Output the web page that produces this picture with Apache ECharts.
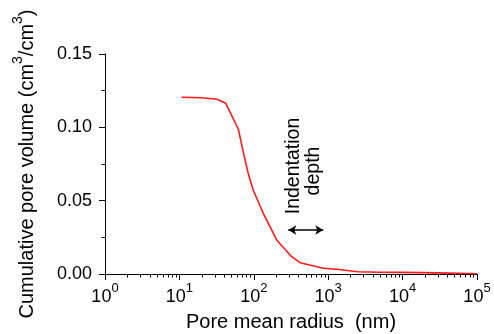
<!DOCTYPE html>
<html>
<head>
<meta charset="utf-8">
<script src="https://cdn.jsdelivr.net/npm/echarts@6/dist/echarts.min.js"></script>
<style>html,body{margin:0;padding:0;background:#fff}#c{width:494px;height:334px}</style>
</head>
<body>
<div id="c"></div>
<script>
// Data
const radius = [10.7, 20, 32, 42, 62, 72, 84, 98, 134, 203, 323, 418, 860, 1300, 2500, 5000, 10000, 30000, 100000];
const volume = [0.1205, 0.1202, 0.1191, 0.1164, 0.0987, 0.0834, 0.0687, 0.0573, 0.0414, 0.0232, 0.0118, 0.0077, 0.0039, 0.0032, 0.0015, 0.0012, 0.0011, 0.0008, 0.0002];
const yTicks = [0, 0.05, 0.10, 0.15];
const xDecades = [0, 1, 2, 3, 4, 5];
const arrowX = [291, 859];
const arrowY = 0.030;
const noteLines = ['Indentation', 'depth'];

const FONT = '"Liberation Sans", Arial, Helvetica, sans-serif';
const minorX = [];
for (let n = 0; n < 5; n++) for (let k = 2; k <= 9; k++) minorX.push(n + Math.log10(k));

const chart = echarts.init(document.getElementById('c'), null, {renderer: 'canvas'});
chart.setOption({
  animation: false,
  backgroundColor: '#fff',
  grid: {left: 105, right: 17, top: 54, bottom: 60, containLabel: false, outerBoundsMode: 'none'},
  xAxis: [{
    type: 'log', logBase: 10, min: Math.pow(10, xDecades[0]), max: Math.pow(10, xDecades[xDecades.length - 1]),
    name: 'Pore mean radius  (nm)', nameLocation: 'middle', nameGap: 38,
    nameTextStyle: {fontFamily: FONT, fontSize: 20, color: '#000'},
    axisLine: {show: true, onZero: false, lineStyle: {color: '#000', width: 1}},
    axisTick: {show: true, inside: false, length: 6, lineStyle: {color: '#000'}},
    splitLine: {show: false},
    axisLabel: {
      margin: 8,
      formatter: function (v) { return '{b|10}{s|' + Math.round(Math.log10(v)) + '}'; },
      rich: {
        b: {fontFamily: FONT, fontSize: 18, color: '#000', lineHeight: 30},
        s: {fontFamily: FONT, fontSize: 13, color: '#000', verticalAlign: 'top', lineHeight: 14}
      }
    }
  }, {
    type: 'value', min: 0, max: 5, position: 'bottom', gridIndex: 0,
    axisLine: {show: false},
    axisLabel: {show: false},
    splitLine: {show: false},
    axisTick: {show: true, inside: false, length: 3.5, customValues: minorX, lineStyle: {color: '#000'}}
  }],
  yAxis: {
    type: 'value', min: yTicks[0], max: yTicks[yTicks.length - 1], interval: 0.05,
    name: '{a|Cumulative pore volume (cm}{s|3}{a|/cm}{s|3}{a|)}',
    nameLocation: 'middle', nameGap: 62, nameRotate: 90,
    nameTextStyle: {
      rich: {
        a: {fontFamily: FONT, fontSize: 20, color: '#000', lineHeight: 32},
        s: {fontFamily: FONT, fontSize: 14, color: '#000', verticalAlign: 'top', lineHeight: 14}
      }
    },
    axisLine: {show: true, lineStyle: {color: '#000', width: 1}},
    axisTick: {show: true, inside: false, length: 6, lineStyle: {color: '#000'}},
    minorTick: {show: true, splitNumber: 2, length: 3.5, lineStyle: {color: '#000'}},
    splitLine: {show: false},
    minorSplitLine: {show: false},
    axisLabel: {
      margin: 13, fontFamily: FONT, fontSize: 18, color: '#000',
      formatter: function (v) { return v.toFixed(2); }
    }
  },
  series: [{
    type: 'line', xAxisIndex: 0,
    data: radius.map((r, i) => [r, volume[i]]),
    showSymbol: false, smooth: false,
    lineStyle: {color: '#ff1a1a', width: 1.6},
    z: 5,
    markLine: {
      silent: true, symbol: ['arrow', 'arrow'], symbolSize: [7, 8],
      label: {show: false},
      lineStyle: {color: '#000', width: 1.5, type: 'solid'},
      data: [[{coord: [arrowX[0], arrowY]}, {coord: [arrowX[1], arrowY]}]]
    }
  }],
  graphic: [
    {type: 'text', x: 294, y: 166, rotation: Math.PI / 2,
     style: {text: noteLines[0], fontFamily: FONT, fontSize: 19.5, fill: '#000', align: 'center', verticalAlign: 'middle'}},
    {type: 'text', x: 314, y: 171, rotation: Math.PI / 2,
     style: {text: noteLines[1], fontFamily: FONT, fontSize: 19.5, fill: '#000', align: 'center', verticalAlign: 'middle'}}
  ]
});
</script>
</body>
</html>
